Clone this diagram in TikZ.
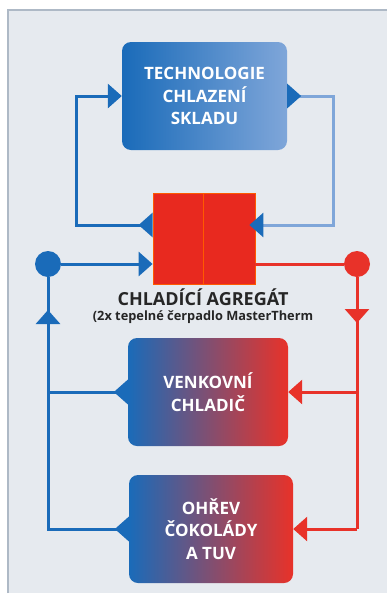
\documentclass[tikz,border=0pt]{standalone}
\usepackage{fontspec}
\setmainfont{Open Sans}
\usetikzlibrary{positioning,calc,arrows.meta}

\definecolor{bgray}{HTML}{E6EAEF}
\definecolor{frameg}{HTML}{AEB9C6}
\definecolor{blueA}{HTML}{1A6BB9}
\definecolor{blueL}{HTML}{7FA6D9}
\definecolor{redA}{HTML}{E83229}
\definecolor{aggred}{HTML}{E8291F}

\tikzset{
  tri/.tip={Triangle[length=14pt,width=24pt]},
  boxtext/.style={text=white, font=\bfseries\fontsize{17}{22.5}\selectfont, align=center},
  tbox/.style={rounded corners=9pt, minimum height=108pt, inner sep=0pt, boxtext},
  aggbox/.style={draw=orange!70!red, line width=0.8pt, fill=aggred, minimum height=91pt, inner sep=0pt},
  bl/.style={draw=blueA, line width=3pt},
  lbl/.style={draw=blueL, line width=3pt},
  rd/.style={draw=redA, line width=3pt},
  dot/.style={circle, minimum size=26pt, inner sep=0pt}
}

\begin{document}
\begin{tikzpicture}[x=1pt, y=-1pt]
% background
\fill[white] (0,0) rectangle (387,595);
\fill[bgray] (8,10) rectangle (387,593);
\draw[frameg, line width=1.2pt] (8,593) -- (8,10) -- (387,10);
\useasboundingbox (0,0) rectangle (387,595);

% boxes
\node[tbox, minimum width=165pt, left color=blueA, right color=blueL] (tech) at (204.5,96) {TECHNOLOGIE\\CHLAZENÍ\\SKLADU};
\node[aggbox, minimum width=50pt] (aggl) at (178,238.5) {};
\node[aggbox, minimum width=52pt] (aggr) at (229,238.5) {};
\node[font=\bfseries\fontsize{18}{20}\selectfont, text=black!85] (agg) at (203,297) {CHLADÍCÍ AGREGÁT};
\node[font=\bfseries\fontsize{12.8}{14}\selectfont, text=black!85] (aggsub) at (203,317) {(2x tepelné čerpadlo MasterTherm};
\node[tbox, minimum width=160pt, left color=blueA, right color=redA] (venk) at (208,392) {VENKOVNÍ\\CHLADIČ};
\node[tbox, minimum width=164pt, left color=blueA, right color=redA] (ohrev) at (211,529) {OHŘEV\\ČOKOLÁDY\\A TUV};

\node[dot, fill=blueA] (bdot) at (48,264) {};
\node[dot, fill=redA] (rdot) at (357,264) {};
\coordinate (upA) at (48,310);
\coordinate (dnA) at (357,323);

% upper loop
\draw[bl, {tri[reversed]}-{tri}] ([yshift=13.5pt]aggl.west) -- ++(-76,0) |- (tech.west);
\draw[lbl, {tri[reversed,blueA]}-{tri[blueA]}] (tech.east) -- ++(46,0) |- ([xshift=-6pt,yshift=13.5pt]aggr.east);

% lower loop
\draw[bl, -{tri}] (bdot) -- (aggl.west |- bdot);
\draw[rd] (aggr.east |- rdot) -- (rdot);
\draw[bl, {tri[reversed]}-] (ohrev.west) -| (bdot);
\draw[bl, {tri[reversed]}-] (venk.west) -- (bdot |- venk.west);
\draw[bl, -{tri}] (bdot |- ohrev.west) -- (upA);
\draw[rd, -{tri}] (rdot |- ohrev.east) -- (ohrev.east);
\draw[rd] (rdot) -- (rdot |- ohrev.east);
\draw[rd, -{tri}] (rdot |- venk.east) -- (venk.east);
\draw[rd, -{tri}] (rdot) -- (dnA);
\end{tikzpicture}
\end{document}
